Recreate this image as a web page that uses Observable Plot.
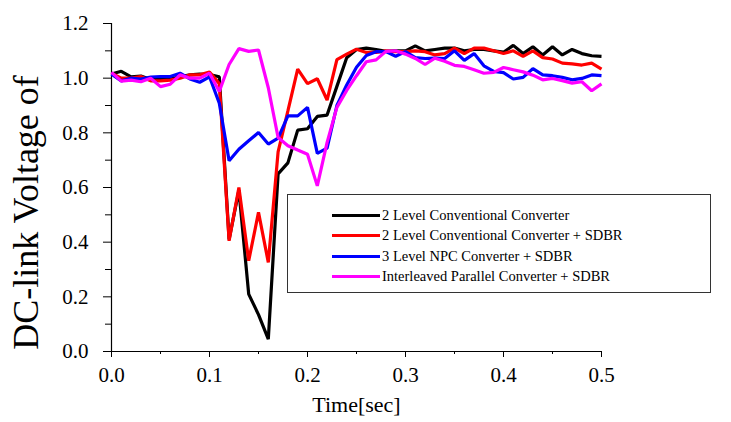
<!DOCTYPE html>
<html>
<head>
<meta charset="utf-8">
<script src="https://cdn.jsdelivr.net/npm/d3@7"></script>
<script src="https://cdn.jsdelivr.net/npm/@observablehq/plot@0.6"></script>
<style>
  html, body { margin: 0; padding: 0; background: #fff; }
  #chart { position: relative; width: 731px; height: 422px; font-family: "Liberation Serif", "Times New Roman", serif; }
  #chart svg, #chart svg text { font-family: "Liberation Serif", "Times New Roman", serif !important; }
  #legend {
    position: absolute; left: 287px; top: 194px; width: 424px; height: 99px;
    border: 1px solid #333; box-sizing: border-box; background: #fff;
  }
  .row { position: absolute; left: 44px; height: 20px; display: flex; align-items: center; }
  .swatch { width: 48px; height: 3px; margin-right: 2px; }
  .lbl { font-family: "Liberation Serif", "Times New Roman", serif; font-size: 14.5px; color: #000; white-space: nowrap; }
</style>
</head>
<body>
<div id="chart"></div>
<script>
// Time samples in seconds, 10 ms apart
const time = d3.range(0, 51).map(i => +(i * 0.01).toFixed(2));

// DC-link voltage (p.u.) for each converter configuration
const twoLevel = [
  1.015, 1.025, 1.005, 1.008, 0.995, 0.997, 0.997, 1.005, 1.012, 1.015,
  1.013, 1.005, 0.41, 0.59, 0.21, 0.135, 0.045, 0.65, 0.69, 0.81,
  0.815, 0.86, 0.865, 0.97, 1.075, 1.105, 1.11, 1.105, 1.098, 1.10,
  1.10, 1.118, 1.10, 1.105, 1.11, 1.11, 1.10, 1.105, 1.105, 1.10,
  1.095, 1.12, 1.09, 1.115, 1.085, 1.115, 1.085, 1.105, 1.09, 1.082,
  1.08
];
const twoLevelSdbr = [
  1.018, 1.0, 1.0, 1.006, 0.99, 0.99, 0.993, 1.0, 1.012, 1.012,
  1.022, 0.98, 0.405, 0.60, 0.332, 0.509, 0.326, 0.73, 0.88, 1.033,
  0.98, 0.998, 0.92, 1.068, 1.088, 1.106, 1.094, 1.094, 1.10, 1.097,
  1.097, 1.10, 1.097, 1.085, 1.09, 1.11, 1.09, 1.11, 1.11, 1.10,
  1.09, 1.10, 1.08, 1.10, 1.075, 1.07, 1.055, 1.052, 1.048, 1.055,
  1.033
];
const threeLevelNpcSdbr = [
  1.015, 0.99, 1.0, 0.997, 1.004, 1.006, 1.006, 1.018, 0.997, 0.985,
  1.005, 0.908, 0.698, 0.740, 0.771, 0.801, 0.759, 0.781, 0.862, 0.862,
  0.893, 0.725, 0.744, 0.90, 0.975, 1.04, 1.083, 1.097, 1.097, 1.08,
  1.097, 1.075, 1.072, 1.073, 1.072, 1.10, 1.065, 1.09, 1.045, 1.025,
  1.02, 0.997, 1.003, 1.035, 1.012, 1.009, 1.003, 0.994, 0.999, 1.012,
  1.009
];
const interleavedSdbr = [
  1.021, 0.989, 0.993, 0.987, 1.0, 0.969, 0.978, 1.012, 1.0, 1.0,
  1.018, 0.951, 1.05, 1.108, 1.098, 1.103, 0.965, 0.783, 0.753, 0.737,
  0.722, 0.606, 0.765, 0.893, 0.955, 1.009, 1.06, 1.067, 1.098, 1.10,
  1.088, 1.072, 1.05, 1.073, 1.062, 1.047, 1.043, 1.031, 1.018, 1.021,
  1.039, 1.031, 1.023, 1.011, 0.994, 0.999, 0.991, 0.982, 0.987, 0.954,
  0.979
];

const seriesNames = [
  "2 Level Conventional Converter",
  "2 Level Conventional Converter + SDBR",
  "3 Level NPC Converter + SDBR",
  "Interleaved Parallel Converter + SDBR"
];
const seriesColors = ["#000000", "#ff0000", "#0000ff", "#ff00ff"];
const seriesValues = [twoLevel, twoLevelSdbr, threeLevelNpcSdbr, interleavedSdbr];

const xMajor = [0, 0.1, 0.2, 0.3, 0.4, 0.5];
const xMinor = [0.05, 0.15, 0.25, 0.35, 0.45];
const yMajor = [0, 0.2, 0.4, 0.6, 0.8, 1.0, 1.2];
const yMinor = [0.1, 0.3, 0.5, 0.7, 0.9, 1.1];

const rows = seriesValues.flatMap((vals, s) =>
  vals.map((v, i) => ({ t: time[i], v, series: seriesNames[s] }))
);

const fmt = d3.format(".1f");
const serif = '"Liberation Serif", "Times New Roman", serif';

const plot = Plot.plot({
  width: 731,
  height: 422,
  marginLeft: 111,
  marginRight: 130,
  marginTop: 23,
  marginBottom: 71,
  style: { fontFamily: serif, fontSize: "21px", background: "#fff", color: "#000" },
  x: { domain: [0, 0.5] },
  y: { domain: [0, 1.2] },
  color: { domain: seriesNames, range: seriesColors },
  marks: [
    Plot.axisY(yMajor, { tickSize: 8, tickPadding: 15, tickFormat: fmt, label: null, fontSize: 21 }),
    Plot.axisY(yMinor, { tickSize: 6, tickFormat: () => "", label: null }),
    Plot.axisX(xMajor, { tickSize: 6, tickPadding: 10, tickFormat: fmt, label: null, fontSize: 21 }),
    Plot.axisX(xMinor, { tickSize: 3, tickFormat: () => "", label: null }),
    Plot.ruleX([0], { stroke: "#000", strokeWidth: 1.2 }),
    Plot.ruleY([0], { stroke: "#000", strokeWidth: 1.2 }),
    Plot.line(rows, {
      x: "t", y: "v", z: "series", stroke: "series",
      strokeWidth: 3.2, strokeLinejoin: "miter", strokeLinecap: "butt"
    }),
    Plot.text(["Time[sec]"], { frameAnchor: "bottom", dy: 60, fontSize: 22, fill: "#000" }),
    Plot.text(["DC-link Voltage of"], {
      frameAnchor: "left", textAnchor: "middle", rotate: -90,
      dx: -85, dy: 25, fontSize: 36, fill: "#000"
    })
  ]
});

const chart = document.getElementById("chart");
chart.appendChild(plot);

// Legend box
const legend = document.createElement("div");
legend.id = "legend";
seriesNames.forEach((name, i) => {
  const row = document.createElement("div");
  row.className = "row";
  row.style.top = (10 + i * 20.5) + "px";
  const sw = document.createElement("div");
  sw.className = "swatch";
  sw.style.background = seriesColors[i];
  const lb = document.createElement("span");
  lb.className = "lbl";
  lb.textContent = name;
  row.appendChild(sw);
  row.appendChild(lb);
  legend.appendChild(row);
});
chart.appendChild(legend);
</script>
</body>
</html>
